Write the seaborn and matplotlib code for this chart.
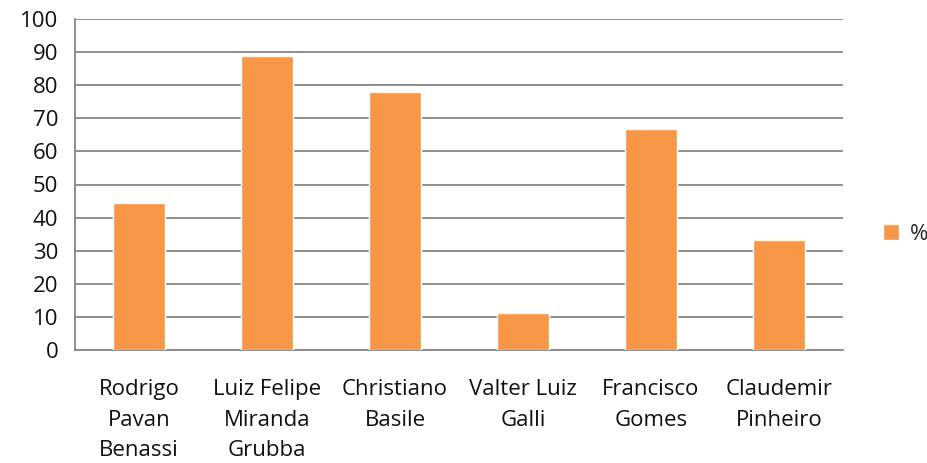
import matplotlib
matplotlib.use("Agg")
import matplotlib.pyplot as plt
import seaborn as sns
import pandas as pd
from matplotlib.patches import Patch

# Dados do grafico
nomes = ["Rodrigo\nPavan\nBenassi", "Luiz Felipe\nMiranda\nGrubba", "Christiano\nBasile",
         "Valter Luiz\nGalli", "Francisco\nGomes", "Claudemir\nPinheiro"]
percentuais = [44.4, 88.9, 77.8, 11.1, 66.7, 33.3]
serie = "%"

df = pd.DataFrame({"nome": nomes, "valor": percentuais})

sns.set_style("white")
plt.rcParams['font.family'] = ['Open Sans', 'DejaVu Sans']

laranja = '#F79646'
cinza = '#868686'

fig = plt.figure(figsize=(9.27, 4.63), dpi=100)
ax = fig.add_axes([75 / 927, 1 - 350 / 463, 768 / 927, 331 / 463])

sns.barplot(data=df, x="nome", y="valor", color=laranja, width=0.4, ax=ax,
            saturation=1, zorder=3)

ax.set_ylim(0, 100)
ax.set_xlim(-0.5, len(nomes) - 0.5)
ax.set_yticks(range(0, 101, 10))
ax.yaxis.grid(True, color=cinza, linewidth=1.3, zorder=0)
ax.set_axisbelow(True)
ax.set_xlabel("")
ax.set_ylabel("")

for lado in ["top", "right"]:
    ax.spines[lado].set_visible(False)
for lado in ["left", "bottom"]:
    ax.spines[lado].set_color(cinza)
    ax.spines[lado].set_linewidth(1.3)

# ticks do eixo x nas divisas das categorias
ax.set_xticks([i - 0.5 for i in range(len(nomes) + 1)], minor=True)
ax.tick_params(axis="x", which="minor", length=8, width=1.3, color=cinza, direction="out")
ax.tick_params(axis="x", which="major", length=0, pad=21, labelsize=16, colors="#111111")
ax.tick_params(axis="y", length=8, width=1.3, color=cinza, labelsize=16, pad=4,
               labelcolor="#111111")
for t in ax.get_xticklabels():
    t.set_linespacing(1.6)

ax.legend(handles=[Patch(facecolor=laranja, label=serie)], loc="center left",
          bbox_to_anchor=(808 / 768, 0.35), frameon=False, fontsize=16,
          handlelength=0.7, handleheight=0.7, handletextpad=0.5,
          borderpad=0, borderaxespad=0)

plt.savefig("out.png", dpi=100)
